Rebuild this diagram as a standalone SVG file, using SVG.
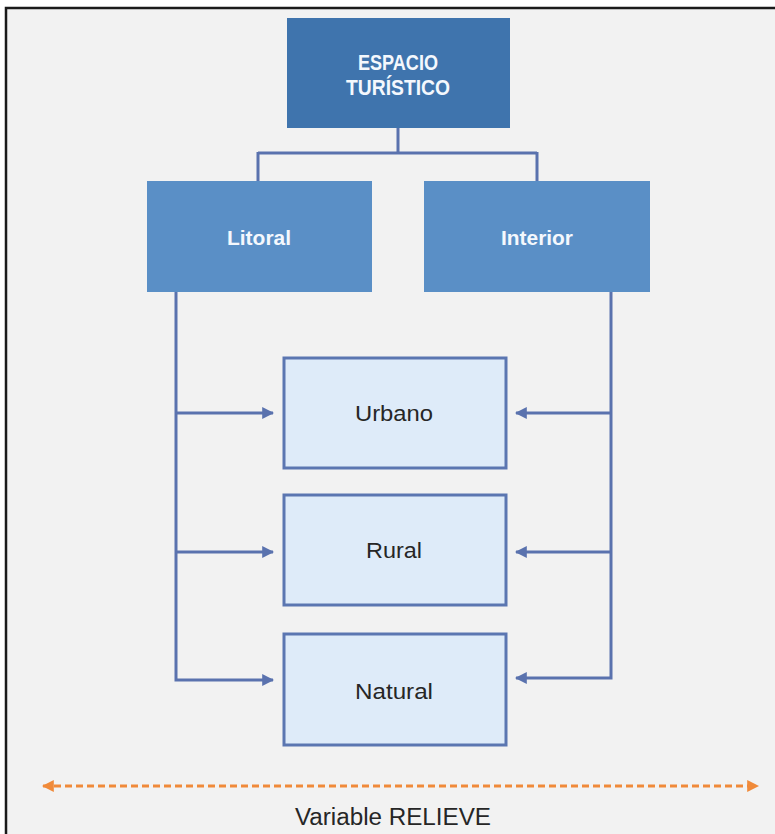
<svg xmlns="http://www.w3.org/2000/svg" width="775" height="834" viewBox="0 0 775 834">
  <style>
    .dark { fill: #3f74ad; }
    .mid { fill: #5a8fc6; }
    .leaf { fill: #deebf9; stroke: #5b76b1; stroke-width: 3; }
    .wtext { fill: #f4f8fd; font-family: "Liberation Sans", Arial, sans-serif; font-weight: bold; text-anchor: middle; }
    .ltext { fill: #262626; font-family: "Liberation Sans", Arial, sans-serif; text-anchor: middle; }
    .conn { fill: none; stroke: #5a72ae; stroke-width: 3; }
  </style>
  <defs>
    <marker id="arrow" viewBox="0 0 10 10" refX="9" refY="5" markerWidth="4" markerHeight="4" orient="auto" markerUnits="strokeWidth">
      <path d="M0,0 L10,5 L0,10 Z" fill="#5a72ae"/>
    </marker>
    <marker id="arrowOrange" viewBox="0 0 10 10" refX="9" refY="5" markerWidth="4" markerHeight="4" orient="auto-start-reverse" markerUnits="strokeWidth">
      <path d="M0,0 L10,5 L0,10 Z" fill="#f08a3a"/>
    </marker>
  </defs>

  <!-- frame -->
  <rect x="0" y="0" width="775" height="834" fill="#ffffff"/>
  <rect x="6" y="8" width="775" height="834" fill="#f2f2f2" stroke="#1a1a1a" stroke-width="2.5"/>

  <!-- connectors -->
  <g id="connectors">
    <path class="conn" d="M398,128 V153 M258,153 H537 M258,152 V181 M537,152 V181"/>
    <path class="conn" d="M176,292 V680 H273" marker-end="url(#arrow)"/>
    <path class="conn" d="M176,413 H273" marker-end="url(#arrow)"/>
    <path class="conn" d="M176,552 H273" marker-end="url(#arrow)"/>
    <path class="conn" d="M611,292 V678 H516" marker-end="url(#arrow)"/>
    <path class="conn" d="M611,413 H516" marker-end="url(#arrow)"/>
    <path class="conn" d="M611,552 H516" marker-end="url(#arrow)"/>
    <path d="M43,786 H758" fill="none" stroke="#f08a3a" stroke-width="3" stroke-dasharray="7,4" marker-start="url(#arrowOrange)" marker-end="url(#arrowOrange)"/>
  </g>

  <g id="espacio">
    <rect class="dark" x="287" y="18" width="223" height="110"/>
    <text class="wtext" x="398" y="70" font-size="22" font-weight="normal" textLength="80" lengthAdjust="spacingAndGlyphs">ESPACIO</text>
    <text class="wtext" x="398" y="95" font-size="22" font-weight="normal" textLength="104" lengthAdjust="spacingAndGlyphs">TURÍSTICO</text>
  </g>

  <g id="litoral">
    <rect class="mid" x="147" y="181" width="225" height="111"/>
    <text class="wtext" x="259" y="245" font-size="21" textLength="64" lengthAdjust="spacingAndGlyphs">Litoral</text>
  </g>

  <g id="interior">
    <rect class="mid" x="424" y="181" width="226" height="111"/>
    <text class="wtext" x="537" y="245" font-size="21" textLength="72" lengthAdjust="spacingAndGlyphs">Interior</text>
  </g>

  <g id="urbano">
    <rect class="leaf" x="284" y="358" width="222" height="110"/>
    <text class="ltext" x="394" y="421" font-size="22" textLength="78" lengthAdjust="spacingAndGlyphs">Urbano</text>
  </g>

  <g id="rural">
    <rect class="leaf" x="284" y="495" width="222" height="110"/>
    <text class="ltext" x="394" y="558" font-size="22" textLength="56" lengthAdjust="spacingAndGlyphs">Rural</text>
  </g>

  <g id="natural">
    <rect class="leaf" x="284" y="634" width="222" height="111"/>
    <text class="ltext" x="394" y="699" font-size="22" textLength="78" lengthAdjust="spacingAndGlyphs">Natural</text>
  </g>

  <text class="ltext" x="393" y="825" font-size="23" textLength="196" lengthAdjust="spacingAndGlyphs">Variable RELIEVE</text>
</svg>
